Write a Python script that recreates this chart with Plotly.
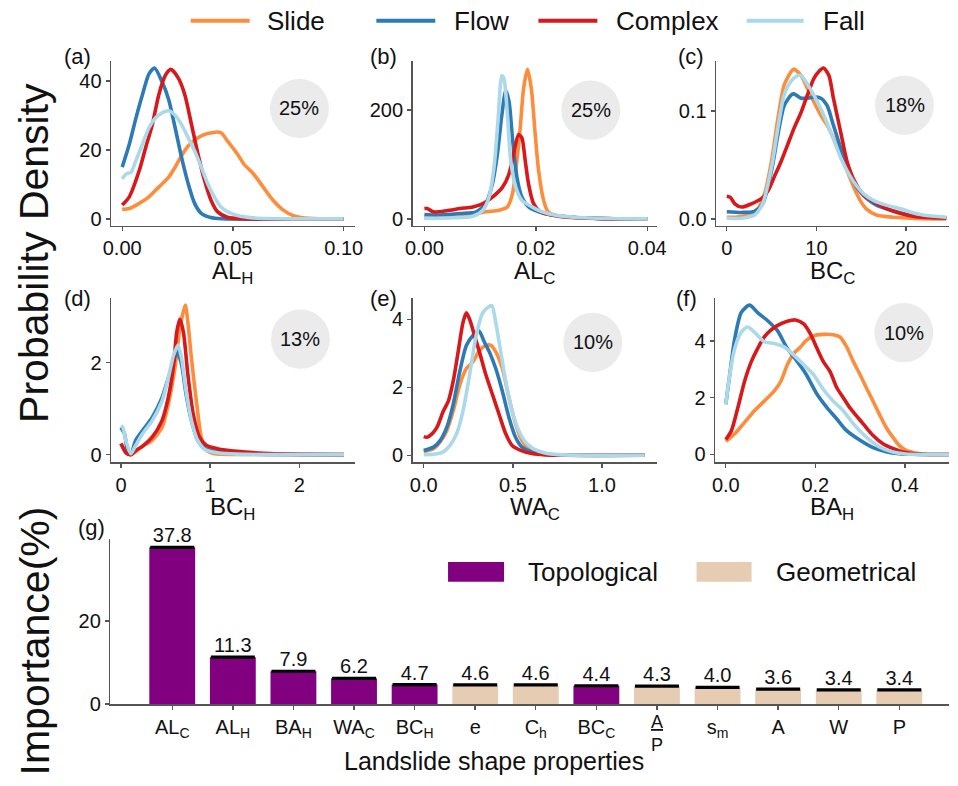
import plotly.graph_objects as go

# ---------------- DATA ----------------
series_names = ["Slide", "Flow", "Complex", "Fall"]
series_colors = ["#FD8D3C", "#2C7BB6", "#D7191C", "#ABD9E9"]

# (a) AL_H
alh_slide_x = [0, 0.0032, 0.0077, 0.0121, 0.0165, 0.021, 0.0239, 0.0268, 0.0298, 0.0342, 0.0386, 0.0445, 0.0475, 0.052, 0.0549, 0.0593, 0.0637, 0.0681, 0.0726, 0.077, 0.0814, 0.09, 0.1]
alh_slide_y = [2.8, 3, 4.5, 6.4, 9.2, 12.1, 15, 18.3, 21.1, 23.5, 24.7, 25, 22.6, 18.8, 15.9, 13, 9.2, 5.4, 2.6, 1, 0.3, 0.05, 0]
alh_flow_x = [0, 0.0032, 0.0062, 0.0091, 0.0121, 0.0146, 0.018, 0.021, 0.0239, 0.0268, 0.0298, 0.0327, 0.0357, 0.04, 0.045, 0.1]
alh_flow_y = [15, 21.6, 29.2, 35.9, 42, 43.7, 39.7, 34.5, 26.4, 17.8, 10.2, 4.5, 1.6, 0.4, 0.05, 0]
alh_complex_x = [0, 0.0032, 0.0077, 0.0106, 0.0136, 0.0165, 0.0195, 0.022, 0.0254, 0.0283, 0.0313, 0.0342, 0.0372, 0.0401, 0.043, 0.0475, 0.055, 0.1]
alh_complex_y = [4, 6.4, 14, 20.7, 27.3, 35.9, 41.6, 43.3, 40.7, 35.9, 27.3, 18.8, 11.1, 5.4, 2.1, 0.5, 0.05, 0]
alh_fall_x = [0, 0.0018, 0.004, 0.0062, 0.0091, 0.0121, 0.015, 0.018, 0.021, 0.0239, 0.0268, 0.0298, 0.0327, 0.0357, 0.0386, 0.0416, 0.0445, 0.0475, 0.052, 0.059, 0.07, 0.1]
alh_fall_y = [11.6, 13, 13.5, 16.9, 21.6, 26.4, 29.2, 30.7, 31.3, 30, 27.3, 23.5, 19.7, 15, 10.2, 6.4, 3.5, 2.1, 1, 0.3, 0.05, 0]

# (b) AL_C
alc_slide_x = [0, 0.0081, 0.011, 0.0134, 0.0149, 0.0158, 0.0166, 0.0172, 0.0178, 0.0185, 0.0192, 0.0198, 0.0205, 0.0214, 0.0222, 0.024, 0.0275, 0.032, 0.04]
alc_slide_y = [2.4, 7, 13, 16, 22, 46, 107, 167, 239, 275, 239, 167, 89, 34, 13, 5, 2, 0.5, 0]
alc_flow_x = [0, 0.0022, 0.0064, 0.0093, 0.011, 0.0122, 0.0131, 0.0139, 0.0146, 0.0152, 0.0158, 0.0166, 0.0175, 0.0187, 0.0205, 0.0228, 0.0264, 0.032, 0.04]
alc_flow_y = [8, 7, 10, 13, 28, 64, 119, 191, 236, 215, 149, 77, 40, 22, 13, 7, 3, 0.5, 0]
alc_complex_x = [0, 0.0005, 0.0016, 0.004, 0.0064, 0.0087, 0.0105, 0.0122, 0.014, 0.0152, 0.016, 0.0169, 0.0175, 0.0181, 0.0187, 0.0196, 0.0208, 0.0228, 0.0264, 0.032, 0.04]
alc_complex_y = [19, 19, 13, 15, 19, 22, 28, 40, 58, 83, 119, 155, 149, 107, 64, 28, 13, 7, 3, 0.5, 0]
alc_fall_x = [0, 0.0052, 0.0087, 0.0105, 0.0116, 0.0125, 0.0132, 0.0139, 0.0143, 0.0149, 0.0155, 0.0164, 0.0175, 0.0193, 0.0211, 0.024, 0.0287, 0.035, 0.04]
alc_fall_y = [1, 2, 5, 16, 40, 95, 179, 263, 257, 191, 107, 58, 34, 22, 13, 6, 2, 0.3, 0]

# (c) BC_C
bcc_slide_x = [0, 0.92, 2.4, 3.5, 4.2, 5.0, 5.7, 6.4, 7.2, 7.5, 8.3, 9.0, 9.7, 10.5, 11.2, 11.9, 12.7, 13.4, 14.2, 14.9, 15.6, 16.7, 18.6, 21, 24.5]
bcc_slide_y = [0.0015, 0.0015, 0.0036, 0.0097, 0.023, 0.054, 0.093, 0.124, 0.137, 0.139, 0.133, 0.121, 0.109, 0.096, 0.087, 0.075, 0.06, 0.045, 0.029, 0.017, 0.009, 0.0036, 0.0015, 0.0005, 0]
bcc_flow_x = [0, 1.65, 3.1, 4.0, 5.0, 5.7, 6.4, 7.2, 7.5, 8.3, 9.0, 9.7, 10.5, 11.2, 11.9, 12.7, 13.4, 14.2, 14.9, 15.6, 16.7, 18.6, 20.4, 22.2, 24.5]
bcc_flow_y = [0.0067, 0.006, 0.007, 0.014, 0.045, 0.078, 0.105, 0.115, 0.116, 0.112, 0.112, 0.113, 0.112, 0.105, 0.087, 0.066, 0.048, 0.034, 0.025, 0.019, 0.0128, 0.0073, 0.0036, 0.0018, 0.001]
bcc_complex_x = [0, 0.4, 0.9, 1.65, 2.75, 3.9, 4.6, 5.3, 6.1, 6.8, 7.5, 8.3, 9.0, 9.7, 10.3, 10.8, 11.4, 11.9, 12.7, 13.4, 14.2, 15.3, 16.4, 17.8, 19.3, 21.1, 24.5]
bcc_complex_y = [0.021, 0.02, 0.014, 0.011, 0.014, 0.019, 0.026, 0.039, 0.054, 0.069, 0.084, 0.099, 0.115, 0.13, 0.137, 0.14, 0.133, 0.112, 0.081, 0.054, 0.036, 0.022, 0.016, 0.0097, 0.0052, 0.002, 0.0008]
bcc_fall_x = [0, 1.65, 3.1, 4.0, 5.0, 5.7, 6.4, 7.2, 7.9, 8.3, 9.0, 9.7, 10.5, 11.2, 11.9, 12.7, 13.4, 14.2, 15.3, 16.4, 17.8, 19.3, 20.4, 21.9, 24.5]
bcc_fall_y = [0.0006, 0.0006, 0.0036, 0.014, 0.048, 0.084, 0.115, 0.128, 0.133, 0.133, 0.125, 0.115, 0.102, 0.089, 0.074, 0.057, 0.045, 0.034, 0.023, 0.017, 0.0128, 0.0097, 0.0067, 0.0036, 0.0015]

# (d) BC_H
bch_slide_x = [0, 0.055, 0.11, 0.165, 0.24, 0.35, 0.46, 0.53, 0.61, 0.66, 0.72, 0.75, 0.79, 0.85, 0.9, 0.96, 1.05, 1.3, 2.5]
bch_slide_y = [0.24, 0.09, 0.0, 0.06, 0.18, 0.31, 0.59, 1.09, 1.95, 2.74, 3.25, 2.88, 2.09, 1.09, 0.38, 0.09, 0.02, 0.005, 0]
bch_flow_x = [0, 0.04, 0.07, 0.11, 0.165, 0.24, 0.35, 0.46, 0.53, 0.59, 0.63, 0.68, 0.73, 0.79, 0.86, 0.94, 1.08, 1.3, 2.5]
bch_flow_y = [0.59, 0.45, 0.13, 0.0, 0.31, 0.52, 0.81, 1.24, 1.66, 2.02, 2.24, 1.95, 1.31, 0.74, 0.31, 0.13, 0.06, 0.02, 0]
bch_complex_x = [0, 0.055, 0.11, 0.165, 0.24, 0.35, 0.46, 0.53, 0.59, 0.625, 0.66, 0.7, 0.75, 0.81, 0.88, 0.96, 1.08, 1.3, 1.6, 1.89, 2.5]
bch_complex_y = [0.24, 0.04, 0.0, 0.09, 0.18, 0.38, 0.74, 1.24, 1.95, 2.66, 2.95, 2.66, 1.74, 0.88, 0.38, 0.2, 0.13, 0.07, 0.03, 0.01, 0]
bch_fall_x = [0, 0.02, 0.055, 0.11, 0.165, 0.24, 0.35, 0.46, 0.53, 0.59, 0.64, 0.68, 0.73, 0.79, 0.86, 0.94, 1.08, 1.3, 2.5]
bch_fall_y = [0.63, 0.59, 0.31, 0.02, 0.2, 0.45, 0.74, 1.16, 1.66, 2.16, 2.38, 2.09, 1.38, 0.74, 0.31, 0.11, 0.04, 0.01, 0]

# (e) WA_C
wac_slide_x = [0, 0.055, 0.092, 0.129, 0.165, 0.202, 0.239, 0.276, 0.3125, 0.349, 0.377, 0.404, 0.441, 0.478, 0.515, 0.551, 0.588, 0.643, 0.717, 0.85, 1.24]
wac_slide_y = [0.1, 0.19, 0.39, 0.72, 1.3, 2.07, 2.55, 2.75, 3.08, 3.23, 3.23, 3.04, 2.55, 1.69, 0.92, 0.43, 0.19, 0.07, 0.02, 0, 0]
wac_flow_x = [0, 0.055, 0.092, 0.129, 0.165, 0.202, 0.239, 0.276, 0.309, 0.34, 0.368, 0.404, 0.441, 0.478, 0.515, 0.551, 0.607, 0.68, 0.8, 1.24]
wac_flow_y = [0.14, 0.24, 0.43, 0.82, 1.49, 2.46, 3.23, 3.52, 3.66, 3.33, 3.04, 2.55, 1.88, 1.11, 0.53, 0.24, 0.1, 0.03, 0, 0]
wac_complex_x = [0, 0.018, 0.046, 0.074, 0.11, 0.138, 0.165, 0.193, 0.22, 0.239, 0.257, 0.285, 0.3125, 0.349, 0.386, 0.423, 0.46, 0.496, 0.551, 0.607, 0.68, 0.8, 1.24]
wac_complex_y = [0.55, 0.53, 0.63, 0.82, 1.3, 1.59, 2.17, 3.04, 3.9, 4.19, 4.0, 3.52, 3.04, 2.36, 1.78, 1.2, 0.63, 0.29, 0.13, 0.05, 0.01, 0, 0]
wac_fall_x = [0, 0.055, 0.11, 0.147, 0.184, 0.22, 0.257, 0.294, 0.331, 0.358, 0.382, 0.404, 0.432, 0.46, 0.496, 0.533, 0.57, 0.616, 0.68, 0.754, 0.9, 1.24]
wac_fall_y = [0.02, 0.03, 0.1, 0.29, 0.63, 1.3, 2.36, 3.52, 4.19, 4.34, 4.4, 3.9, 3.04, 2.17, 1.3, 0.72, 0.39, 0.19, 0.07, 0.02, 0, 0]

# (f) BA_H
bah_slide_x = [0, 0.02, 0.042, 0.064, 0.086, 0.108, 0.123, 0.1375, 0.152, 0.167, 0.18, 0.2, 0.218, 0.24, 0.255, 0.27, 0.285, 0.3, 0.314, 0.329, 0.343, 0.358, 0.373, 0.3875, 0.402, 0.424, 0.446, 0.47, 0.5]
bah_slide_y = [0.46, 0.73, 1.13, 1.54, 1.88, 2.23, 2.58, 3.16, 3.56, 3.79, 4.02, 4.2, 4.23, 4.22, 4.14, 3.79, 3.27, 2.81, 2.35, 1.88, 1.42, 0.96, 0.61, 0.32, 0.15, 0.05, 0.01, 0, 0]
bah_flow_x = [0, 0.0088, 0.02, 0.0346, 0.053, 0.071, 0.093, 0.115, 0.1375, 0.16, 0.18, 0.204, 0.226, 0.248, 0.27, 0.3, 0.329, 0.358, 0.3875, 0.417, 0.45, 0.5]
bah_flow_y = [1.77, 2.81, 4.08, 5.0, 5.26, 5.0, 4.72, 4.37, 3.73, 3.27, 2.81, 2.12, 1.65, 1.25, 0.84, 0.5, 0.24, 0.1, 0.03, 0.01, 0, 0]
bah_complex_x = [0, 0.0125, 0.027, 0.042, 0.057, 0.071, 0.086, 0.1, 0.115, 0.1375, 0.156, 0.174, 0.189, 0.204, 0.218, 0.233, 0.248, 0.2625, 0.277, 0.292, 0.307, 0.329, 0.351, 0.373, 0.395, 0.424, 0.46, 0.5]
bah_complex_y = [0.53, 0.84, 1.65, 2.58, 3.27, 3.73, 4.14, 4.37, 4.54, 4.69, 4.74, 4.6, 4.25, 3.73, 3.27, 2.92, 2.35, 2.0, 1.65, 1.36, 1.08, 0.67, 0.38, 0.21, 0.09, 0.02, 0, 0]
bah_fall_x = [0, 0.0088, 0.02, 0.0346, 0.049, 0.064, 0.086, 0.108, 0.13, 0.152, 0.174, 0.196, 0.218, 0.24, 0.2625, 0.285, 0.314, 0.343, 0.373, 0.402, 0.44, 0.5]
bah_fall_y = [1.77, 2.81, 3.73, 4.31, 4.49, 4.31, 3.97, 3.91, 3.79, 3.5, 3.16, 2.81, 2.29, 1.88, 1.54, 1.08, 0.61, 0.27, 0.09, 0.02, 0, 0]

panel_percent = ["25%", "25%", "18%", "13%", "10%", "10%"]
panel_titles = ["AL<sub>H</sub>", "AL<sub>C</sub>", "BC<sub>C</sub>", "BC<sub>H</sub>", "WA<sub>C</sub>", "BA<sub>H</sub>"]
panel_letters = ["(a)", "(b)", "(c)", "(d)", "(e)", "(f)"]

# (g) importance
bar_labels = ["AL<sub>C</sub>", "AL<sub>H</sub>", "BA<sub>H</sub>", "WA<sub>C</sub>", "BC<sub>H</sub>", "e",
              "C<sub>h</sub>", "BC<sub>C</sub>", "<u>A</u><br>P", "s<sub>m</sub>", "A", "W", "P"]
bar_values = [37.8, 11.3, 7.9, 6.2, 4.7, 4.6, 4.6, 4.4, 4.3, 4.0, 3.6, 3.4, 3.4]
bar_groups = ["Topological", "Topological", "Topological", "Topological", "Topological", "Geometrical",
              "Geometrical", "Topological", "Geometrical", "Geometrical", "Geometrical", "Geometrical", "Geometrical"]
bar_errors = [0.12] * 13
group_colors = {"Topological": "#800080", "Geometrical": "#E6CCB2"}

# ---------------- LAYOUT HELPERS ----------------
W, H = 958, 786
FONT = "Liberation Sans, Arial, Helvetica, sans-serif"
AX = "#555555"
TXT = "#111111"


def px(x):
    return x / W


def py(y):
    return 1 - y / H


panel_data = [
    [(alh_slide_x, alh_slide_y), (alh_flow_x, alh_flow_y), (alh_complex_x, alh_complex_y), (alh_fall_x, alh_fall_y)],
    [(alc_slide_x, alc_slide_y), (alc_flow_x, alc_flow_y), (alc_complex_x, alc_complex_y), (alc_fall_x, alc_fall_y)],
    [(bcc_slide_x, bcc_slide_y), (bcc_flow_x, bcc_flow_y), (bcc_complex_x, bcc_complex_y), (bcc_fall_x, bcc_fall_y)],
    [(bch_slide_x, bch_slide_y), (bch_flow_x, bch_flow_y), (bch_complex_x, bch_complex_y), (bch_fall_x, bch_fall_y)],
    [(wac_slide_x, wac_slide_y), (wac_flow_x, wac_flow_y), (wac_complex_x, wac_complex_y), (wac_fall_x, wac_fall_y)],
    [(bah_slide_x, bah_slide_y), (bah_flow_x, bah_flow_y), (bah_complex_x, bah_complex_y), (bah_fall_x, bah_fall_y)],
]

panel_geom = [
    dict(xd=(105, 353), yd=(62, 229), xr=[-0.005, 0.105], yr=[-2.0, 45.7],
         xt=[0, 0.05, 0.1], xtt=["0.00", "0.05", "0.10"], yt=[0, 20, 40], ytt=["0", "20", "40"],
         circ=(296.7, 110), lab=(71, 57)),
    dict(xd=(412, 661), yd=(62, 229), xr=[-0.0021, 0.0418], yr=[-12.7, 290],
         xt=[0, 0.02, 0.04], xtt=["0.00", "0.02", "0.04"], yt=[0, 200], ytt=["0", "200"],
         circ=(593.3, 111.7), lab=(382, 57)),
    dict(xd=(721, 958), yd=(62, 229), xr=[-1.18, 24.8], yr=[-0.0064, 0.1464],
         xt=[0, 10, 20], xtt=["0", "10", "20"], yt=[0, 0.1], ytt=["0.0", "0.1"],
         circ=(912.7, 106.7), lab=(695, 57)),
    dict(xd=(105, 353), yd=(302, 469), xr=[-0.11, 2.62], yr=[-0.17, 3.41],
         xt=[0, 1, 2], xtt=["0", "1", "2"], yt=[0, 2], ytt=["0", "2"],
         circ=(297.7, 344), lab=(71, 303)),
    dict(xd=(412, 661), yd=(302, 469), xr=[-0.062, 1.31], yr=[-0.21, 4.63],
         xt=[0, 0.5, 1.0], xtt=["0.0", "0.5", "1.0"], yt=[0, 2, 4], ytt=["0", "2", "4"],
         circ=(595.3, 347.3), lab=(382, 303)),
    dict(xd=(720, 958), yd=(302, 469), xr=[-0.0236, 0.4986], yr=[-0.28, 5.52],
         xt=[0, 0.2, 0.4], xtt=["0.0", "0.2", "0.4"], yt=[0, 2, 4], ytt=["0", "2", "4"],
         circ=(912, 337.3), lab=(691, 303)),
]

fig = go.Figure()
layout = dict()
shapes = []
annotations = []

axis_common = dict(showline=True, linecolor=AX, linewidth=1.6, ticks="outside", ticklen=4,
                   tickwidth=1.4, tickcolor=AX, showgrid=False, zeroline=False,
                   tickfont=dict(family=FONT, size=20, color=TXT), fixedrange=True)

for i, (g, data) in enumerate(zip(panel_geom, panel_data)):
    n = i + 1
    xa = "x" if n == 1 else f"x{n}"
    ya = "y" if n == 1 else f"y{n}"
    for (xs, ys), name, col in zip(data, series_names, series_colors):
        fig.add_trace(go.Scatter(x=xs, y=ys, mode="lines", name=name, showlegend=False,
                                 line=dict(color=col, width=3.6, shape="spline", smoothing=0.7),
                                 xaxis=xa, yaxis=ya, hoverinfo="skip"))
    layout["xaxis" if n == 1 else f"xaxis{n}"] = dict(
        axis_common, domain=[px(g["xd"][0]), px(g["xd"][1])], range=g["xr"],
        tickvals=g["xt"], ticktext=g["xtt"], anchor=ya)
    layout["yaxis" if n == 1 else f"yaxis{n}"] = dict(
        axis_common, domain=[py(g["yd"][1]), py(g["yd"][0])], range=g["yr"],
        tickvals=g["yt"], ticktext=g["ytt"], anchor=xa)
    cx, cy = g["circ"]
    r = 30
    shapes.append(dict(type="circle", xref="paper", yref="paper",
                       x0=px(cx - r), x1=px(cx + r), y0=py(cy + r), y1=py(cy - r),
                       fillcolor="#EBEBEB", line=dict(width=0), layer="below"))
    annotations.append(dict(x=px(cx), y=py(cy), xref="paper", yref="paper", text=panel_percent[i],
                            showarrow=False, font=dict(family=FONT, size=20, color=TXT),
                            xanchor="center", yanchor="middle"))
    annotations.append(dict(x=px(g["lab"][0]), y=py(g["lab"][1]), xref="paper", yref="paper",
                            text=panel_letters[i], showarrow=False,
                            font=dict(family=FONT, size=22, color=TXT), xanchor="center", yanchor="middle"))
    annotations.append(dict(x=px((g["xd"][0] + g["xd"][1]) / 2), y=py(g["yd"][1] + 47),
                            xref="paper", yref="paper", text=panel_titles[i], showarrow=False,
                            font=dict(family=FONT, size=24, color=TXT), xanchor="center", yanchor="middle"))

# ---------------- BAR PANEL ----------------
bar_x = list(range(len(bar_values)))
fig.add_trace(go.Bar(x=bar_x, y=bar_values, width=0.757,
                     marker=dict(color=[group_colors[gname] for gname in bar_groups], line=dict(width=0)),
                     error_y=dict(type="data", array=bar_errors, color="black", thickness=2.2, width=22),
                     xaxis="x7", yaxis="y7", showlegend=False, hoverinfo="skip"))
fig.add_trace(go.Scatter(x=bar_x, y=bar_values, mode="text", text=[f"{v:.1f}" for v in bar_values],
                         textposition="top center", textfont=dict(family=FONT, size=20, color=TXT),
                         cliponaxis=False, xaxis="x7", yaxis="y7", showlegend=False, hoverinfo="skip"))

tick_text_main = [("" if "<br>" in t else t) for t in bar_labels]
layout["xaxis7"] = dict(axis_common, domain=[px(104.3), 1.0], range=[-1.02, 12.82],
                        tickvals=bar_x, ticktext=tick_text_main, anchor="y7")
layout["yaxis7"] = dict(axis_common, domain=[py(714), py(546.7)], range=[0, 39.8],
                        tickvals=[0, 20], ticktext=["0", "20"], anchor="x7")
# stacked (fraction) tick label drawn at its category position
for xi, t in zip(bar_x, bar_labels):
    if "<br>" in t:
        annotations.append(dict(x=xi, y=py(720), xref="x7", yref="paper", text=t, showarrow=False,
                                font=dict(family=FONT, size=18, color=TXT), xanchor="center", yanchor="top"))
annotations.append(dict(x=px(85), y=py(535), xref="paper", yref="paper", text="(g)", showarrow=False,
                        font=dict(family=FONT, size=22, color=TXT), xanchor="center", yanchor="middle"))

# bar legend
for (gname, x0, x1, tx) in [("Topological", 448, 505, 527), ("Geometrical", 701, 757, 780)]:
    shapes.append(dict(type="rect", xref="paper", yref="paper", x0=px(x0), x1=px(x1),
                       y0=py(590), y1=py(570), fillcolor=group_colors[gname], line=dict(width=0)))
    annotations.append(dict(x=px(tx), y=py(580), xref="paper", yref="paper", text=gname, showarrow=False,
                            font=dict(family=FONT, size=26, color=TXT), xanchor="left", yanchor="middle"))

# top legend
for name, col, (x0, x1, tx) in zip(series_names, series_colors,
                                   [(186, 246, 262), (375, 435, 452), (540, 600, 617), (752, 810, 828)]):
    shapes.append(dict(type="line", xref="paper", yref="paper", x0=px(x0), x1=px(x1), y0=py(21), y1=py(21),
                       line=dict(color=col, width=4)))
    annotations.append(dict(x=px(tx), y=py(21), xref="paper", yref="paper", text=name, showarrow=False,
                            font=dict(family=FONT, size=26, color=TXT), xanchor="left", yanchor="middle"))

# axis titles
annotations.append(dict(x=px(27), y=py(257), xref="paper", yref="paper", text="Probability Density",
                        showarrow=False, textangle=-90, font=dict(family=FONT, size=41, color=TXT),
                        xanchor="center", yanchor="middle"))
annotations.append(dict(x=px(27), y=py(650), xref="paper", yref="paper", text="Importance(%)",
                        showarrow=False, textangle=-90, font=dict(family=FONT, size=41, color=TXT),
                        xanchor="center", yanchor="middle"))
annotations.append(dict(x=px(495), y=py(772), xref="paper", yref="paper", text="Landslide shape properties",
                        showarrow=False, font=dict(family=FONT, size=25, color=TXT),
                        xanchor="center", yanchor="middle"))

fig.update_layout(width=W, height=H, margin=dict(l=0, r=0, t=0, b=0),
                  paper_bgcolor="white", plot_bgcolor="white", showlegend=False,
                  shapes=shapes, annotations=annotations, barmode="overlay",
                  font=dict(family=FONT, color=TXT), **layout)

fig.write_html("out.html", config={"displayModeBar": False, "staticPlot": True},
               post_script="document.documentElement.style.margin='0px';document.body.style.margin='0px';"
                           "document.body.style.overflow='hidden';document.documentElement.style.overflow='hidden';")
